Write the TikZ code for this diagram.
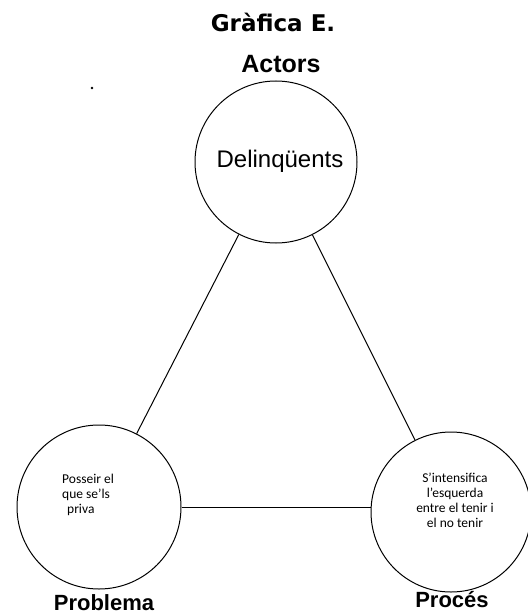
\documentclass[tikz,border=0pt]{standalone}
\usepackage{fontspec}
\setmainfont{Liberation Sans}
\newfontfamily\titlefont{DejaVu Sans}
\newfontfamily\notefont{Carlito}
\begin{document}
\begin{tikzpicture}[x=1pt,y=-1pt,
  every node/.style={inner sep=0pt},
  role/.style={circle,draw,line width=1pt,minimum size=#1,inner sep=0pt},
  heading/.style={font=\bfseries\fontsize{22}{24}\selectfont},
  note/.style={font=\notefont\fontsize{13.5}{15}\selectfont},
  link/.style={line width=1pt}]
\useasboundingbox (0,0) rectangle (527,615);

% title and top label
\node[font=\titlefont\bfseries\fontsize{23}{26}\selectfont] (title) at (273,22) {Gràfica E.};
\node[font=\bfseries\fontsize{25}{27}\selectfont] (actors) at (281,64) {Actors};

% the three circles
\node[role=162] (top) at (276,162) {};
\node[role=164] (left) at (99,507) {};
\node[role=160] (right) at (451,512) {};

% texts inside the circles
\node[font=\fontsize{24}{26}\selectfont] (actorstext) at (280,161) {Delinqüents};
\node[note,align=left,anchor=west] (probtext) at (62,495) {Posseir el\\que se’ls\\\hspace*{5pt}priva};
\node[note,align=center] (proctext) at (455,500) {S’intensifica\\l’esquerda\\entre el tenir i\\el no tenir};

% labels under the lower circles
\node[heading] (problema) at (104,603) {Problema};
\node[heading] (proces) at (452,600) {Procés};

% stray mark
\fill (92,88) circle (1.3pt);

% connectors
\draw[link] (top) -- (left);
\draw[link] (top) -- (right);
\draw[link] (left.east) -- (left.east -| right.west);
\end{tikzpicture}
\end{document}
